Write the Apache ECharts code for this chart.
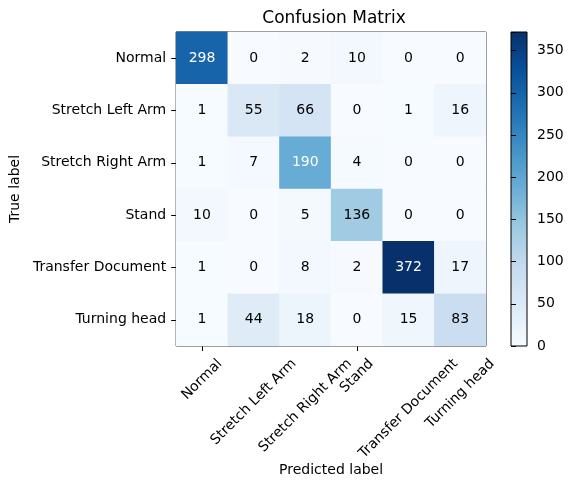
<!DOCTYPE html>
<html><head><meta charset="utf-8">
<script src="https://cdn.jsdelivr.net/npm/echarts@6/dist/echarts.min.js"></script>
<style>html,body{margin:0;padding:0;background:#fff}#c{width:572px;height:489px}</style>
</head><body><div id="c"></div>
<script>
const categories = ['Normal','Stretch Left Arm','Stretch Right Arm','Stand','Transfer Document','Turning head'];
const matrix = [
  [298, 0, 2, 10, 0, 0],
  [1, 55, 66, 0, 1, 16],
  [1, 7, 190, 4, 0, 0],
  [10, 0, 5, 136, 0, 0],
  [1, 0, 8, 2, 372, 17],
  [1, 44, 18, 0, 15, 83]
];
const colorbarTicks = [0, 50, 100, 150, 200, 250, 300, 350];
const blues = ['#f7fbff','#deebf7','#c6dbef','#9ecae1','#6baed6','#4292c6','#2171b5','#08519c','#08306b'];

const vmax = Math.max(...matrix.flat());
const data = [];
matrix.forEach((row, i) => row.forEach((v, j) => data.push([j, i, v])));
const font = 'DejaVu Sans';
const fs = 14;
const measure = document.createElement('canvas').getContext('2d');
measure.font = fs + 'px ' + font;

const chart = echarts.init(document.getElementById('c'), null, {renderer: 'canvas'});
chart.setOption({
  animation: false,
  textStyle: {fontFamily: font},
  title: {
    text: 'Confusion Matrix', left: 329, top: 5, textAlign: 'center',
    textStyle: {fontFamily: font, fontSize: 17, fontWeight: 'normal', color: '#000'}
  },
  grid: [
    {left: 172, top: 32, width: 314, height: 314, show: true, borderColor: '#000', borderWidth: 1, backgroundColor: 'transparent'},
    {left: 511, top: 32, width: 16, height: 314, show: true, borderColor: '#000', borderWidth: 1,
     backgroundColor: {type: 'linear', x: 0, y: 1, x2: 0, y2: 0,
       colorStops: blues.map((c, k) => ({offset: k / (blues.length - 1), color: c}))}}
  ],
  xAxis: [
    {type: 'category', data: categories, gridIndex: 0,
     name: 'Predicted label', nameLocation: 'middle', nameGap: 117,
     nameTextStyle: {fontFamily: font, fontSize: fs, color: '#000'},
     axisLine: {show: false}, splitLine: {show: false},
     axisTick: {show: true, alignWithLabel: true, length: 5, lineStyle: {color: '#000'}},
     axisLabel: {show: false}},
    {type: 'value', gridIndex: 1, show: false, min: 0, max: 1}
  ],
  yAxis: [
    {type: 'category', data: categories, gridIndex: 0, inverse: true,
     name: 'True label', nameLocation: 'middle', nameGap: 148, nameRotate: 90,
     nameTextStyle: {fontFamily: font, fontSize: fs, color: '#000'},
     axisLine: {show: false}, splitLine: {show: false},
     axisTick: {show: true, alignWithLabel: true, length: 5, lineStyle: {color: '#000'}},
     axisLabel: {fontFamily: font, fontSize: fs, color: '#000', margin: 10, interval: 0}},
    {type: 'value', gridIndex: 1, position: 'right', min: 0, max: vmax, interval: 50,
     axisLine: {show: false}, splitLine: {show: false},
     axisTick: {show: true, length: 5, lineStyle: {color: '#000'}},
     axisLabel: {fontFamily: font, fontSize: fs, color: '#000', margin: 10,
       formatter: v => colorbarTicks.includes(v) ? String(v) : ''}}
  ],
  visualMap: {show: false, min: 0, max: vmax, dimension: 2, seriesIndex: 0, inRange: {color: blues}},
  series: [{
    type: 'heatmap', xAxisIndex: 0, yAxisIndex: 0,
    data: data.map(d => ({value: d, label: {color: d[2] > vmax / 2 ? '#fff' : '#000'}})),
    label: {show: true, fontFamily: font, fontSize: fs, formatter: p => String(p.value[2])},
    itemStyle: {borderWidth: 0}
  }, {
    // rotated x tick labels, centred on their ticks like matplotlib's default
    type: 'custom', xAxisIndex: 0, yAxisIndex: 0, clip: false, silent: true,
    data: categories.map((c, i) => [i, categories.length - 1]),
    renderItem: (params, api) => {
      const i = api.value(0);
      const p = api.coord([i, api.value(1)]);
      const half = api.size([1, 1])[1] / 2;
      const text = categories[i];
      const w = measure.measureText(text).width, h = 16;
      const r = Math.SQRT1_2;
      const top = p[1] + half + 10;
      return {type: 'text', x: p[0], y: top + (w + h) * r / 2, rotation: Math.PI / 4,
        style: {text: text, fontFamily: font, fontSize: fs, fill: '#000', align: 'center', verticalAlign: 'middle'}};
    }
  }]
});
</script></body></html>
